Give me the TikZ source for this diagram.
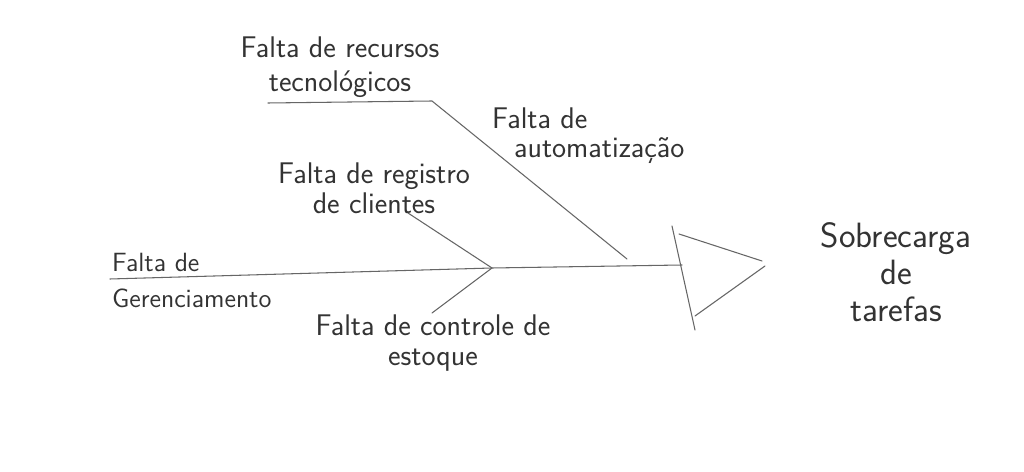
\documentclass[tikz,border=0pt]{standalone}
\usepackage{fontspec}
\tikzset{
  bone/.style={draw=black!60, line width=0.6pt, line cap=round},
  cause/.style={font=\sffamily\fontsize{17}{17}\selectfont, text=black!80, inner sep=1pt}
}
\begin{document}
\begin{tikzpicture}[x=0.02cm, y=-0.02cm]
  \useasboundingbox[fill=white] (0,0) rectangle (1024,472);

  % Labels of the causes
  \node[cause, align=center, font=\sffamily\fontsize{17}{19}\selectfont] (recursos) at (340,67) {Falta de recursos\\tecnológicos};
  \node[cause, anchor=west] (autoA) at (490,118) {Falta de};
  \node[cause, anchor=west] (autoB) at (512,151) {automatização};
  \node[cause, align=center] (registro) at (374,188) {Falta de registro\\de clientes};
  \node[cause, align=center] (estoque) at (433,343) {Falta de controle de\\estoque};
  \node[cause, anchor=west, font=\sffamily\fontsize{15}{14}\selectfont] (gerA) at (110,262) {Falta de};
  \node[cause, anchor=west, font=\sffamily\fontsize{15}{14}\selectfont] (gerB) at (110,298) {Gerenciamento};

  % Effect
  \node[cause, align=center, font=\sffamily\fontsize{20}{21}\selectfont] (effect) at (896,272) {Sobrecarga\\de\\tarefas};

  % Spine
  \coordinate (tail) at (110,279);
  \coordinate (joint) at (492,268);
  \coordinate (spineend) at (682,265);
  \draw[bone] (tail) -- (joint) -- (spineend);

  % Upper bone with the shelf under the first label
  \coordinate (shelfL) at (268,103);
  \coordinate (shelfR) at (432,101);
  \coordinate (shelfE) at (627,259);
  \draw[bone] (shelfL) -- (shelfR) -- (shelfE);

  % Small bones meeting the spine
  \coordinate (regS) at (408,213);
  \coordinate (estS) at (432,313);
  \draw[bone] (regS) -- (joint);
  \draw[bone] (joint) -- (estS);

  % Fish head
  \coordinate (hTop) at (672,226);
  \coordinate (hBot) at (695,330);
  \coordinate (hUp) at (679,234);
  \coordinate (hLow) at (695,316);
  \coordinate (tipA) at (762,261);
  \coordinate (tipB) at (765,266);
  \draw[bone] (hTop) -- (hBot);
  \draw[bone] (hUp) -- (tipA);
  \draw[bone] (hLow) -- (tipB);
\end{tikzpicture}
\end{document}
